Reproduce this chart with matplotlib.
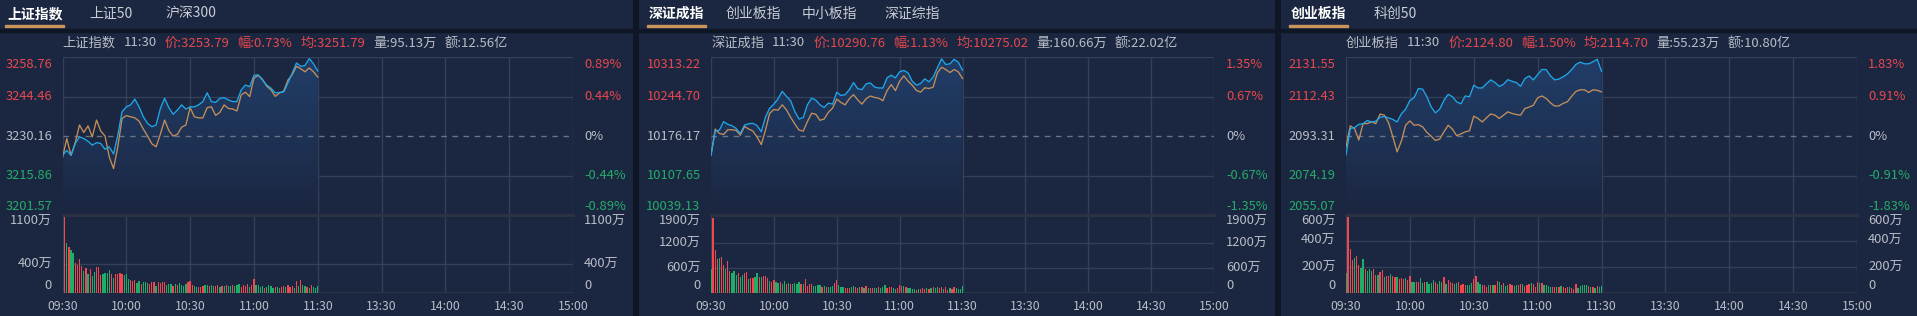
import matplotlib
matplotlib.use("Agg")
import matplotlib.pyplot as plt
import numpy as np
from matplotlib.colors import LinearSegmentedColormap
from matplotlib.patches import Polygon, Rectangle

plt.rcParams['font.family'] = ['Noto Sans CJK SC', 'DejaVu Sans']

# ---- data ----
line_minutes = np.arange(0, 121, 2)      # sampled every 2 minutes from 09:30
bar_minutes = np.arange(0, 121)          # one volume bar per minute
time_ticks = [0, 30, 60, 90, 120, 150, 180, 210, 240]
time_labels = ["09:30", "10:00", "10:30", "11:00", "11:30", "13:30", "14:00", "14:30", "15:00"]

# 上证指数
sh_price = [3223.2, 3225.0, 3223.2, 3227.5, 3229.9, 3229.3, 3228.3, 3226.9, 3227.8, 3227.5,
            3225.4, 3226.3, 3223.7, 3230.5, 3239.0, 3240.8, 3241.5, 3243.6, 3240.8, 3237.2,
            3234.8, 3233.6, 3234.2, 3240.2, 3243.9, 3240.5, 3238.1, 3239.6, 3241.5, 3240.0,
            3240.8, 3240.8, 3241.5, 3242.7, 3245.9, 3242.7, 3242.4, 3243.9, 3244.1, 3243.3,
            3242.7, 3242.7, 3246.9, 3248.7, 3248.1, 3252.2, 3252.4, 3250.5, 3248.7, 3247.6,
            3245.9, 3246.0, 3246.2, 3249.5, 3253.0, 3256.7, 3255.5, 3255.8, 3258.3, 3256.4,
            3253.8]
sh_avg = [3222.3, 3229.3, 3223.2, 3227.9, 3234.2, 3231.5, 3233.9, 3229.9, 3236.0, 3232.0,
          3230.2, 3222.6, 3218.4, 3226.3, 3236.6, 3237.6, 3237.2, 3236.8, 3235.6, 3232.7,
          3230.2, 3227.4, 3226.3, 3230.9, 3236.0, 3232.2, 3230.2, 3230.8, 3233.4, 3234.2,
          3240.5, 3237.2, 3236.8, 3236.8, 3240.5, 3240.8, 3237.7, 3238.8, 3241.5, 3240.2,
          3240.0, 3239.3, 3245.1, 3246.1, 3244.5, 3251.2, 3252.2, 3250.8, 3248.3, 3247.0,
          3244.6, 3245.8, 3246.5, 3250.5, 3252.5, 3255.5, 3254.6, 3253.5, 3254.9, 3253.5,
          3251.6]
sh_vol = [350, 1067, 695, 640, 593, 557, 419, 386, 474, 377,
          310, 350, 260, 340, 245, 300, 360, 360, 250, 270,
          280, 275, 320, 260, 210, 265, 265, 275, 270, 255,
          270, 200, 180, 175, 180, 140, 175, 130, 150, 160,
          145, 130, 150, 150, 95, 155, 140, 150, 150, 110,
          125, 130, 95, 130, 110, 140, 115, 100, 130, 150,
          170, 110, 100, 90, 90, 90, 100, 110, 110, 95,
          120, 95, 100, 120, 90, 95, 100, 110, 95, 95,
          110, 100, 110, 130, 90, 120, 95, 130, 90, 120,
          200, 120, 110, 90, 100, 80, 90, 120, 100, 80,
          90, 85, 70, 90, 100, 85, 120, 90, 100, 80,
          170, 100, 180, 120, 100, 90, 70, 120, 90, 80,
          100]
sh_updown = ("grgrggrrrr" "grgrggrrrg" "gggrgrrrrg" "ggrrrggrgg" "grrrgrrrrg" "ggrgrggggr"
             "rrggrrrggr" "ggrrgrgrgg" "rgggrrrrgr" "rggggrgggg" "rggrrgrrrg" "rgrggrgrgg" "g")
sh_levels = [3258.76, 3244.46, 3230.16, 3215.86, 3201.57]
sh_pcts = ["0.89%", "0.44%", "0%", "-0.44%", "-0.89%"]
sh_vol_ticks = [1100, 400, 0]
sh_tabs = ["上证指数", "上证50", "沪深300"]
sh_head = ["上证指数", "11:30", "价:3253.79", "幅:0.73%", "均:3251.79", "量:95.13万", "额:12.56亿"]

# 深证成指
sz_price = [10142.8, 10185.0, 10186.7, 10201.4, 10196.7, 10194.3, 10189.6, 10180.9, 10195.5, 10197.8,
            10198.4, 10194.3, 10183.8, 10209.5, 10224.8, 10231.8, 10241.2, 10254.1, 10245.3, 10237.7,
            10218.9, 10206.0, 10208.4, 10230.6, 10242.3, 10238.8, 10230.6, 10225.9, 10233.6, 10231.8,
            10252.3, 10247.0, 10248.2, 10257.0, 10269.3, 10258.7, 10257.0, 10266.9, 10268.7, 10261.7,
            10259.9, 10259.9, 10277.5, 10282.2, 10277.5, 10288.0, 10290.4, 10286.2, 10271.8, 10264.8,
            10267.7, 10275.8, 10270.6, 10278.7, 10295.0, 10310.5, 10300.7, 10301.9, 10309.7, 10304.8,
            10290.8]
sz_avg = [10142.8, 10188.5, 10180.9, 10179.1, 10187.3, 10187.3, 10186.1, 10177.9, 10193.1, 10188.5,
          10185.0, 10174.4, 10161.5, 10186.7, 10216.0, 10222.4, 10221.3, 10230.6, 10221.8, 10209.0,
          10197.3, 10186.7, 10185.0, 10201.4, 10216.0, 10214.2, 10203.7, 10206.0, 10217.7, 10224.8,
          10240.6, 10234.7, 10230.6, 10241.2, 10248.2, 10239.4, 10231.8, 10241.2, 10245.9, 10243.5,
          10242.3, 10237.7, 10255.2, 10265.8, 10255.2, 10271.6, 10281.0, 10271.8, 10264.8, 10255.6,
          10252.7, 10260.2, 10259.0, 10261.3, 10286.2, 10296.1, 10292.0, 10286.8, 10292.0, 10288.0,
          10276.4]
sz_vol = [592, 1808, 1032, 816, 848, 872, 672, 592, 768, 544,
          488, 528, 432, 488, 384, 448, 488, 504, 352, 368,
          368, 392, 488, 392, 384, 408, 416, 368, 300, 280,
          330, 260, 240, 280, 230, 300, 230, 250, 220, 230,
          240, 220, 270, 220, 220, 350, 170, 230, 230, 180,
          180, 190, 190, 150, 180, 160, 150, 140, 180, 240,
          330, 200, 160, 140, 120, 130, 120, 150, 170, 150,
          120, 160, 140, 130, 180, 120, 130, 130, 130, 120,
          140, 130, 150, 190, 120, 140, 150, 120, 100, 120,
          210, 170, 180, 150, 130, 120, 100, 100, 90, 110,
          100, 120, 110, 130, 100, 130, 150, 120, 160, 120,
          150, 100, 140, 90, 120, 100, 150, 120, 110, 100,
          180]
sz_updown = ("grrrgrrgrr" "gggrggrrgr" "rggrgrrrgr" "rggrggrgrg" "gggrgrrrrg" "gggrgrgggr"
             "rgggrrrggr" "rgrgrgrrgg" "rgggrrrggr" "rrgrggggrg" "rrrgrgrggr" "rgrrgrrggg" "g")
sz_levels = [10313.22, 10244.70, 10176.17, 10107.65, 10039.13]
sz_pcts = ["1.35%", "0.67%", "0%", "-0.67%", "-1.35%"]
sz_vol_ticks = [1900, 1200, 600, 0]
sz_tabs = ["深证成指", "创业板指", "中小板指", "深证综指"]
sz_head = ["深证成指", "11:30", "价:10290.76", "幅:1.13%", "均:10275.02", "量:160.66万", "额:22.02亿"]

# 创业板指
cy_price = [2084.1, 2097.0, 2097.5, 2099.0, 2099.4, 2100.9, 2100.2, 2100.6, 2102.5, 2102.8,
            2102.2, 2101.4, 2100.2, 2104.1, 2106.4, 2110.6, 2112.0, 2116.4, 2116.1, 2112.4,
            2107.5, 2104.6, 2106.4, 2110.7, 2113.6, 2112.4, 2109.9, 2109.0, 2112.8, 2112.4,
            2118.0, 2116.7, 2116.7, 2118.8, 2120.6, 2119.3, 2117.4, 2118.5, 2120.7, 2119.9,
            2119.3, 2117.5, 2121.2, 2122.5, 2120.6, 2123.2, 2125.6, 2125.6, 2122.6, 2120.6,
            2121.0, 2122.1, 2123.5, 2125.6, 2128.1, 2129.2, 2128.4, 2128.4, 2129.4, 2130.6,
            2124.8]
cy_avg = [2088.1, 2098.3, 2097.0, 2091.4, 2099.4, 2099.4, 2100.2, 2099.4, 2104.0, 2103.5,
          2099.8, 2093.0, 2085.7, 2090.9, 2098.6, 2100.7, 2098.6, 2098.9, 2097.8, 2095.1,
          2093.3, 2091.2, 2091.9, 2095.4, 2098.6, 2096.7, 2093.5, 2094.4, 2095.4, 2095.9,
          2103.0, 2101.9, 2100.2, 2102.2, 2104.1, 2103.5, 2101.9, 2103.5, 2105.1, 2104.3,
          2103.8, 2103.5, 2106.7, 2107.4, 2108.3, 2111.9, 2112.8, 2111.6, 2109.5, 2107.9,
          2108.0, 2109.2, 2110.0, 2112.7, 2115.0, 2115.8, 2115.8, 2114.5, 2115.8, 2115.5,
          2114.8]
cy_vol = [154, 587, 334, 250, 268, 281, 212, 192, 260, 182,
          170, 182, 172, 182, 142, 142, 162, 175, 124, 129,
          132, 147, 132, 121, 121, 109, 116, 111, 116, 104,
          132, 86, 86, 84, 86, 119, 81, 86, 84, 73,
          81, 99, 84, 73, 94, 86, 121, 73, 101, 86,
          81, 73, 78, 86, 61, 73, 61, 61, 61, 81,
          106, 132, 86, 73, 66, 61, 51, 66, 61, 61,
          63, 94, 84, 63, 81, 56, 61, 68, 61, 56,
          61, 61, 71, 73, 56, 61, 73, 81, 73, 48,
          89, 81, 81, 66, 60, 55, 45, 50, 45, 50,
          45, 55, 45, 40, 50, 45, 40, 35, 70, 40,
          55, 60, 65, 60, 55, 50, 45, 40, 55, 45,
          55]
cy_updown = ("grrrgrrggr" "gggrrgrrgr" "rgrrgrrrgr" "rggrrggrgg" "ggrrggrgrr" "rggrrrrggg"
             "rrggrrrgrg" "rrggrggrrg" "grrgrrrgrr" "rgrggggrrg" "rgrrrgrrrg" "ggggrgrgrg" "g")
cy_levels = [2131.55, 2112.43, 2093.31, 2074.19, 2055.07]
cy_pcts = ["1.83%", "0.91%", "0%", "-0.91%", "-1.83%"]
cy_vol_ticks = [600, 400, 200, 0]
cy_tabs = ["创业板指", "科创50"]
cy_head = ["创业板指", "11:30", "价:2124.80", "幅:1.50%", "均:2114.70", "量:55.23万", "额:10.80亿"]

# ---- colours ----
BG = "#1b2640"
GAP = "#0f1626"
GRID = "#34405a"
TXT = "#b8bdc7"
RED = "#e8484d"
GREEN = "#24ad6a"
BLUE = "#20a6e8"
ORANGE = "#c48f5a"
BAR_RED = "#f2474d"
BAR_GREEN = "#1dae68"
TAB_LINE = "#c8955a"

W, H = 1917, 316
fig = plt.figure(figsize=(W / 100, H / 100), dpi=100)
fig.patch.set_facecolor(GAP)
renderer = fig.canvas.get_renderer()


def frac(x0, y0, x1, y1):
    # pixel box (top-left origin) -> figure fraction rect
    return [x0 / W, 1 - y1 / H, (x1 - x0) / W, (y1 - y0) / H]


def ftext(x, y, s, **kw):
    return fig.text(x / W, 1 - y / H, s, **kw)


def bare(ax):
    ax.set_xticks([])
    ax.set_yticks([])
    for s in ax.spines.values():
        s.set_visible(False)


fill_cmap = LinearSegmentedColormap.from_list("fill", [BG, "#213e69"])

panels = [
    dict(span=(0, 633), chart=(62.5, 573), lab_l=52, lab_r=584,
         tabs=list(zip([7, 89, 165], sh_tabs)), tab_line=(5, 64), head=sh_head,
         price=sh_price, avg=sh_avg, vol=sh_vol, updown=sh_updown, vol_top=1080,
         levels=sh_levels, pcts=sh_pcts, vol_ticks=sh_vol_ticks),
    dict(span=(639, 1275), chart=(711, 1214), lab_l=700.5, lab_r=1226,
         tabs=list(zip([649, 726, 802, 884], sz_tabs)), tab_line=(647, 706), head=sz_head,
         price=sz_price, avg=sz_avg, vol=sz_vol, updown=sz_updown, vol_top=1880,
         levels=sz_levels, pcts=sz_pcts, vol_ticks=sz_vol_ticks),
    dict(span=(1281, 1917), chart=(1346, 1857), lab_l=1335.5, lab_r=1868,
         tabs=list(zip([1291, 1374], cy_tabs)), tab_line=(1289, 1348), head=cy_head,
         price=cy_price, avg=cy_avg, vol=cy_vol, updown=cy_updown, vol_top=595,
         levels=cy_levels, pcts=cy_pcts, vol_ticks=cy_vol_ticks),
]

P_TOP, P_BOT, V_BOT = 57.3, 215.0, 293.3
LAB_FS = 9.3

for p in panels:
    x0, x1 = p["span"]
    bg = fig.add_axes(frac(x0, 0, x1, H), zorder=-5)
    bg.set_facecolor(BG)
    bare(bg)
    # dark rule under the tab bar
    fig.add_artist(Rectangle((x0 / W, 1 - 31.5 / H), (x1 - x0) / W, 2.2 / H,
                             transform=fig.transFigure, color=GAP, zorder=1))

    # tabs
    for i, (tx, name) in enumerate(p["tabs"]):
        if i == 0:
            ftext(tx, 14, name, fontsize=10, color="white", fontweight="bold", ha="left", va="center")
        else:
            ftext(tx, 14, name, fontsize=10, color="#c9ced6", ha="left", va="center")
    ul0, ul1 = p["tab_line"]
    fig.add_artist(Rectangle((ul0 / W, 1 - 27.2 / H), (ul1 - ul0) / W, 2.2 / H,
                             transform=fig.transFigure, color=TAB_LINE, zorder=2))

    cx0, cx1 = p["chart"]

    # header line, laid out piece by piece
    hx = cx0
    for i, s in enumerate(p["head"]):
        c = RED if i in (2, 3, 4) else TXT
        t_ = ftext(hx, 43, s, fontsize=9.5, color=c, ha="left", va="center")
        hx += t_.get_window_extent(renderer=renderer).width + 8

    lv = p["levels"]
    hi, lo = lv[0], lv[-1]

    # price chart
    ax = fig.add_axes(frac(cx0, P_TOP, cx1, P_BOT))
    ax.set_facecolor("none")
    bare(ax)
    for t in time_ticks:
        ax.axvline(t, color=GRID, lw=1, zorder=0)
    ax.axhline(hi, color=GRID, lw=1, zorder=0)
    ax.axhline(lv[1], color=GRID, lw=1, zorder=0)
    ax.axhline(lv[3], color=GRID, lw=1, zorder=0)
    ax.axhline(lv[2], color="#6a7385", lw=1, ls=(0, (4, 4)), zorder=2)

    pr = np.array(p["price"])
    t = line_minutes
    clip = Polygon(np.column_stack([np.r_[t, t[-1], t[0]], np.r_[pr, lo, lo]]),
                   closed=True, facecolor="none", edgecolor="none")
    ax.add_patch(clip)
    img = ax.imshow(np.linspace(0, 1, 200).reshape(-1, 1), extent=[0, 120, lo, hi],
                    origin="lower", aspect="auto", cmap=fill_cmap, zorder=1)
    img.set_clip_path(clip)
    ax.plot(t, p["avg"], color=ORANGE, lw=0.95, zorder=3)
    ax.plot(t, pr, color=BLUE, lw=0.95, zorder=4)
    ax.set_xlim(0, 240)
    ax.set_ylim(lo, hi)

    # price labels (top / bottom pushed inside)
    ys = [P_TOP + 7, None, None, None, P_BOT - 9]
    for k, (val, pct) in enumerate(zip(lv, p["pcts"])):
        y = ys[k] if ys[k] is not None else P_TOP + (hi - val) / (hi - lo) * (P_BOT - P_TOP)
        c = RED if k < 2 else (TXT if k == 2 else GREEN)
        ftext(p["lab_l"], y, f"{val:.2f}", fontsize=LAB_FS, color=c, ha="right", va="center")
        ftext(p["lab_r"], y, pct, fontsize=LAB_FS, color=c, ha="left", va="center")

    # volume chart
    vx = fig.add_axes(frac(cx0, P_BOT, cx1, V_BOT))
    vx.set_facecolor("none")
    bare(vx)
    vtop = p["vol_top"]
    for tt in time_ticks:
        vx.axvline(tt, color=GRID, lw=1, zorder=0)
    for v in p["vol_ticks"][1:-1]:
        vx.axhline(v, color=GRID, lw=1, zorder=0)
    vx.axhline(0, color="#2c3446", lw=1.5, zorder=0)
    cols = [BAR_RED if c == "r" else BAR_GREEN for c in p["updown"]]
    vx.bar(bar_minutes, p["vol"], width=0.6, color=cols, linewidth=0, zorder=2)
    vx.axhline(vtop, color="#2b3243", lw=2.2, zorder=5, clip_on=False)
    vx.set_xlim(0, 240)
    vx.set_ylim(0, vtop)

    vt = p["vol_ticks"]
    for k, v in enumerate(vt):
        if k == 0:
            y = P_BOT + 6.5
        elif v == 0:
            y = V_BOT - 7.5
        else:
            y = V_BOT - v / vtop * (V_BOT - P_BOT)
        s = "0" if v == 0 else f"{v}万"
        ftext(p["lab_l"], y, s, fontsize=LAB_FS, color=TXT, ha="right", va="center")
        ftext(p["lab_r"], y, s, fontsize=LAB_FS, color=TXT, ha="left", va="center")

    # time axis labels
    for tt, lab in zip(time_ticks, time_labels):
        ftext(cx0 + (cx1 - cx0) * tt / 240, 307, lab, fontsize=8.8, color=TXT, ha="center", va="center")

fig.savefig("out.png", dpi=100, facecolor=fig.get_facecolor())
